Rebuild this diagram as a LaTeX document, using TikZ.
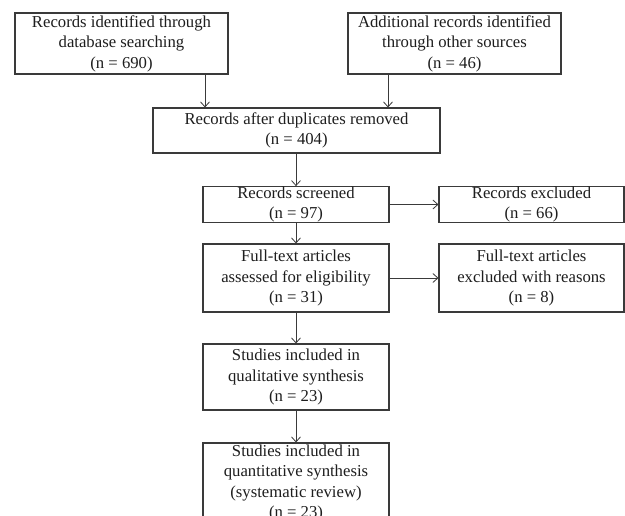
\documentclass[tikz,border=0pt]{standalone}
\usepackage{fontspec}
\setmainfont{Liberation Serif}
\usetikzlibrary{arrows.meta}
\definecolor{linec}{HTML}{3A3A3A}
\definecolor{textc}{HTML}{1E1E1E}
\begin{document}
\begin{tikzpicture}[x=1pt,y=-1pt,
  boxst/.style={draw=linec,line width=1.1pt,fill=white,inner sep=0pt,align=center,
    text=textc,font=\fontsize{16.7}{20.5}\selectfont},
  arr/.style={draw=linec,line width=0.9pt,-{Straight Barb[length=5pt,width=9pt,line width=0.8pt]}}]
\useasboundingbox (0,0) rectangle (625,516);
\clip (0,0) rectangle (625,516);
\fill[white] (0,0) rectangle (625,516);
\node[boxst,minimum width=213pt,minimum height=61pt] (b1) at (121.5,43.5) {Records identified through\\database searching\\(n = 690)};
\node[boxst,minimum width=213pt,minimum height=61pt] (b2) at (454.5,43.5) {Additional records identified\\through other sources\\(n = 46)};
\node[boxst,minimum width=287pt,minimum height=45pt] (b3) at (296.5,130.5) {Records after duplicates removed\\(n = 404)};
\node[boxst,minimum width=186pt,minimum height=35pt] (b4) at (296,204.5) {Records screened\\(n = 97)};
\node[boxst,minimum width=185pt,minimum height=35pt] (b5) at (531.5,204.5) {Records excluded\\(n = 66)};
\node[boxst,minimum width=186pt,minimum height=68pt] (b6) at (296,278) {Full-text articles\\assessed for eligibility\\(n = 31)};
\node[boxst,minimum width=185pt,minimum height=68pt] (b7) at (531.5,278) {Full-text articles\\excluded with reasons\\(n = 8)};
\node[boxst,minimum width=186pt,minimum height=66pt] (b8) at (296,377) {Studies included in\\qualitative synthesis\\(n = 23)};
\node[boxst,minimum width=186pt,minimum height=80pt] (b9) at (296,483) {Studies included in\\quantitative synthesis\\(systematic review)\\(n = 23)};
\draw[arr] ([xshift=83.5pt]b1.south) -- ([xshift=83.5pt]b1.south |- b3.north);
\draw[arr] ([xshift=-66.5pt]b2.south) -- ([xshift=-66.5pt]b2.south |- b3.north);
\draw[arr] (b3.south -| b4.north) -- (b4.north);
\draw[arr] (b4.east) -- (b5.west);
\draw[arr] (b4.south) -- (b6.north);
\draw[arr] (b6.east) -- (b7.west);
\draw[arr] (b6.south) -- (b8.north);
\draw[arr] (b8.south) -- (b9.north);
\end{tikzpicture}
\end{document}
